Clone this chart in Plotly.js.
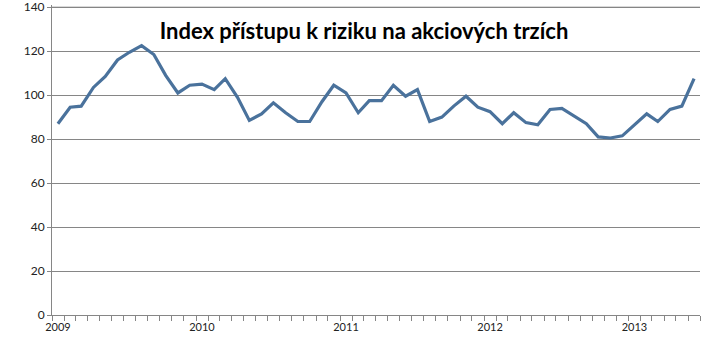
<!DOCTYPE html>
<html>
<head>
<meta charset="utf-8">
<script src="https://cdn.plot.ly/plotly-3.0.1.min.js"></script>
<style>html,body{margin:0;padding:0;background:#fff;}#chart{width:710px;height:343px;}</style>
</head>
<body>
<div id="chart"></div>
<script>
// Data: monthly index, Jan 2009 – Jun 2013
const startYear = 2009;
const values = [
  87, 94.5, 95, 103.5, 108.5, 116, 119.5, 122.5, 118.5, 109, 101, 104.5,
  105, 102.5, 107.5, 99, 88.5, 91.5, 96.5, 92, 88, 88, 97, 104.5,
  101, 92, 97.5, 97.5, 104.5, 99.5, 102.5, 88, 90, 95, 99.5, 94.5,
  92.5, 87, 92, 87.5, 86.5, 93.5, 94, 90.5, 87, 81, 80.5, 81.5,
  86.5, 91.5, 88, 93.5, 95, 107.5
];
const yearLabels = ['2009', '2010', '2011', '2012', '2013'];
const yTicks = [0, 20, 40, 60, 80, 100, 120, 140];
const titleText = 'Index přístupu k riziku na akciových trzích';

// month categories (mid-month dates)
const months = values.map((v, i) => {
  const y = startYear + Math.floor(i / 12);
  const m = (i % 12) + 1;
  return y + '-' + String(m).padStart(2, '0') + '-16';
});
const yearTickVals = yearLabels.map(y => y + '-01-16');

const trace = {
  x: months,
  y: values,
  type: 'scatter',
  mode: 'lines',
  line: {color: '#4a729c', width: 3.2},
  hoverinfo: 'none'
};

const gridColor = '#868686';
const axisFont = {family: 'Lato, "Open Sans", sans-serif', size: 12, color: '#222'};

const layout = {
  width: 710,
  height: 343,
  margin: {l: 52, r: 10, t: 5, b: 28},
  paper_bgcolor: '#fff',
  plot_bgcolor: '#fff',
  showlegend: false,
  title: {
    text: '<b>' + titleText + '</b>',
    font: {family: 'Lato, "Open Sans", sans-serif', size: 22, color: '#000'},
    xref: 'container', x: 364 / 710, xanchor: 'center',
    yref: 'container', y: 1 - 31 / 343, yanchor: 'middle'
  },
  // top gridline (Plotly drops the grid line at the plot's top edge)
  shapes: [{
    type: 'line', xref: 'paper', yref: 'y',
    x0: 0, x1: 1, y0: yTicks[yTicks.length - 1], y1: yTicks[yTicks.length - 1],
    line: {color: gridColor, width: 1}, layer: 'above'
  }],
  xaxis: {
    type: 'date',
    range: ['2009-01-01', '2013-07-01'],
    tickmode: 'array',
    tickvals: yearTickVals,
    ticktext: yearLabels,
    ticks: '',
    showgrid: false,
    showline: true,
    linecolor: gridColor,
    linewidth: 1,
    zeroline: false,
    tickfont: {family: 'Lato, "Open Sans", sans-serif', size: 11, color: '#222'},
    ticklabelstandoff: 2,
    minor: {
      tickmode: 'linear',
      tick0: '2009-01-01',
      dtick: 'M1',
      ticks: 'outside',
      ticklen: 5,
      tickcolor: gridColor,
      tickwidth: 1,
      showgrid: false
    },
    fixedrange: true
  },
  yaxis: {
    range: [0, 141],
    tickmode: 'array',
    tickvals: yTicks,
    ticks: 'outside',
    ticklen: 4,
    tickcolor: gridColor,
    showgrid: true,
    gridcolor: gridColor,
    gridwidth: 1,
    showline: true,
    linecolor: gridColor,
    linewidth: 1,
    zeroline: false,
    tickfont: axisFont,
    ticklabeloverflow: 'allow',
    fixedrange: true
  }
};

Plotly.newPlot('chart', [trace], layout, {displayModeBar: false, staticPlot: true});
</script>
</body>
</html>
